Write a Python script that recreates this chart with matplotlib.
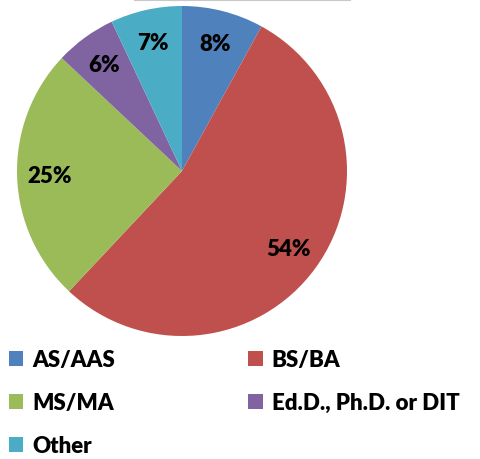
import matplotlib
matplotlib.use("Agg")
import matplotlib.pyplot as plt
from matplotlib.patches import Patch
from matplotlib.lines import Line2D

labels = ["AS/AAS", "BS/BA", "MS/MA", "Ed.D., Ph.D. or DIT", "Other"]
shares = [8, 54, 25, 6, 7]
colors = ["#4F81BD", "#C0504D", "#9BBB59", "#8064A2", "#4BACC6"]

plt.rcParams["font.family"] = ["Lato", "DejaVu Sans"]
plt.rcParams["font.weight"] = "bold"

W, H = 480, 460
fig = plt.figure(figsize=(W / 100, H / 100), dpi=100)

# pie: centre (182, 172) px, radius 165 px
ax = fig.add_axes([17 / W, (H - 337) / H, 330 / W, 330 / H])
wedges, _, autotexts = ax.pie(
    shares,
    colors=colors,
    startangle=90,
    counterclock=False,
    autopct="%d%%",
    pctdistance=0.8,
    textprops={"fontsize": 16, "fontweight": "heavy", "color": "black"},
)
ax.set_xlim(-1, 1)
ax.set_ylim(-1, 1)
ax.set_aspect("equal")
ax.axis("off")

# faint line left over from a box above the chart
fig.add_artist(Line2D([135 / W, 350 / W], [1 - 0.5 / H, 1 - 0.5 / H],
                      color="#c8c8c8", linewidth=1.5))

# legend reads row by row: matplotlib fills columns, so reorder
order = [0, 2, 4, 1, 3]
handles = [Patch(facecolor=colors[i], edgecolor="none") for i in order]
fig.legend(
    handles, [labels[i] for i in order],
    loc="upper left",
    bbox_to_anchor=(9 / W, 1 - 350 / H),
    ncol=2,
    frameon=False,
    prop={"size": 16, "weight": "heavy"},
    handlelength=0.65,
    handleheight=0.65,
    handletextpad=0.4,
    labelspacing=1.0,
    columnspacing=6.0,
    borderaxespad=0,
    borderpad=0,
)

fig.savefig("out.png", dpi=100)
